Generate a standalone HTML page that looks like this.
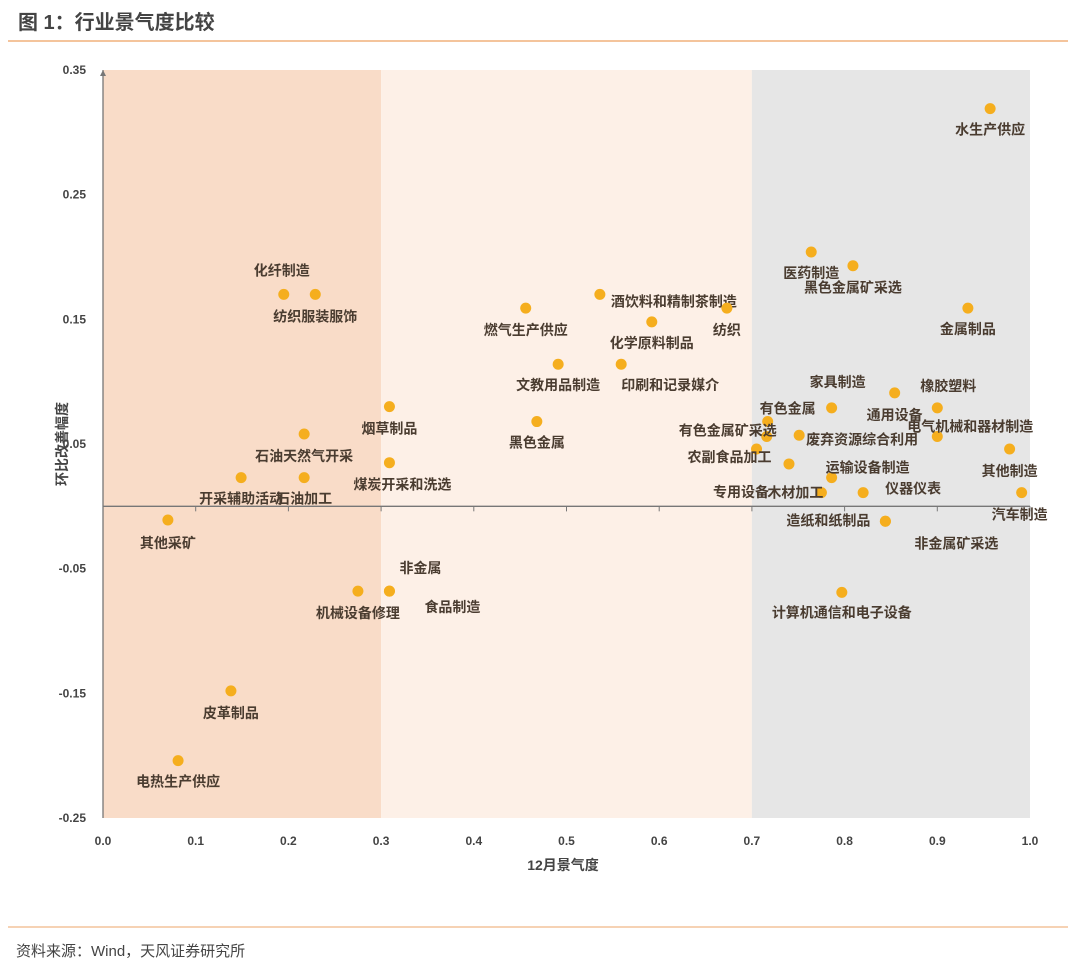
<!DOCTYPE html>
<html><head><meta charset="utf-8"><style>
body{margin:0;background:#fff;width:1080px;height:974px;overflow:hidden;font-family:"Liberation Sans","Noto Sans CJK SC",sans-serif}
svg text{font-family:"Liberation Sans","Noto Sans CJK SC",sans-serif}
</style></head><body>
<svg id="c" width="1080" height="974">
<text x="18" y="29" font-size="20" font-weight="bold" fill="#444">图 1：行业景气度比较</text>
<line x1="8" y1="41" x2="1068" y2="41" stroke="#f4c49c" stroke-width="2"/>
<line x1="8" y1="927" x2="1068" y2="927" stroke="#f4c49c" stroke-width="1.5"/>
<text x="16" y="956" font-size="15" fill="#444">资料来源：Wind，天风证券研究所</text>
<g id="plot"></g>
</svg>
<script>
const names=["水生产供应","医药制造","黑色金属矿采选","金属制品","化纤制造","纺织服装服饰","燃气生产供应","酒饮料和精制茶制造","化学原料制品","纺织","文教用品制造","印刷和记录媒介","黑色金属","烟草制品","石油天然气开采","煤炭开采和洗选","开采辅助活动","石油加工","其他采矿","非金属","食品制造","机械设备修理","皮革制品","电热生产供应","家具制造","有色金属","有色金属矿采选","通用设备","橡胶塑料","电气机械和器材制造","废弃资源综合利用","其他制造","农副食品加工","专用设备","运输设备制造","木材加工","仪器仪表","汽车制造","造纸和纸制品","非金属矿采选","计算机通信和电子设备"];
const xVals=[.957,.764,.809,.933,.195,.229,.456,.536,.592,.673,.491,.559,.468,.309,.217,.309,.149,.217,.070,.309,.309,.275,.138,.081,.786,.717,.716,.854,.900,.900,.751,.978,.705,.740,.786,.775,.820,.991,.844,.844,.797];
const yVals=[.319,.204,.193,.159,.170,.170,.159,.170,.148,.159,.114,.114,.068,.080,.058,.035,.023,.023,-.011,-.068,-.068,-.068,-.148,-.204,.079,.068,.056,.091,.079,.056,.057,.046,.046,.034,.023,.011,.011,.011,-.012,-.012,-.069];
const xTicks=[0,.1,.2,.3,.4,.5,.6,.7,.8,.9,1.0];
const yTicks=[.35,.25,.15,.05,-.05,-.15,-.25];
// label offsets (px) relative to dot: [dx,dy]
const off=[[0,21],[0,21],[0,22],[0,21],[-2,-24],[0,22],[0,22],[74,7],[0,21],[0,22],[0,21],[49,21],[0,21],[0,22],[0,22],[13,22],[0,21],[0,21],[0,23],[31,-23],[63,16],[0,22],[0,22],[0,21],[6,-26],[20,-13],[-39,-6],[0,22],[11,-22],[33,-10],[63,4],[0,22],[-27,8],[-48,28],[36,-10],[-26,0],[50,-4],[-2,22],[-57,-1],[71,22],[0,20]];
const X0=103,X1=1030,YT=70,YB=818,ymin=-.25,ymax=.35;
const sx=v=>X0+(v-0)*(X1-X0)/1;
const sy=v=>YB-(v-ymin)*(YB-YT)/(ymax-ymin);
const NS="http://www.w3.org/2000/svg",g=document.getElementById('plot');
function mk(t,a){const e=document.createElementNS(NS,t);for(const k in a)e.setAttribute(k,a[k]);g.appendChild(e);return e;}
let r;
r=mk('rect',{x:sx(0),y:YT,width:sx(.3)-sx(0),height:YB-YT,fill:'#f9dcc8'});


r=mk('rect',{x:sx(.3),y:YT,width:sx(.7)-sx(.3),height:YB-YT,fill:'#fdf0e7'});


r=mk('rect',{x:sx(.7),y:YT,width:sx(1)-sx(.7),height:YB-YT,fill:'#e6e6e6'});


r=mk('line',{x1:X0,y1:YB,x2:X0,y2:YT,stroke:'#777','stroke-width':1.3});


r=mk('path',{d:`M${X0-3},${YT+6}L${X0},${YT}L${X0+3},${YT+6}Z`,fill:'#777'});


r=mk('line',{x1:X0,y1:sy(0),x2:X1,y2:sy(0),stroke:'#777','stroke-width':1.3});


xTicks.forEach(v=>{
 const l=mk('line',{x1:sx(v),y1:sy(0),x2:sx(v),y2:sy(0)+5,stroke:'#777'});
 
 
 const t=mk('text',{x:sx(v),y:845,'font-size':12,'font-weight':'bold',fill:'#444','text-anchor':'middle'});
 t.textContent=v.toFixed(1);
 
 
});
yTicks.forEach(v=>{
 const t=mk('text',{x:86,y:sy(v)+4,'font-size':12,'font-weight':'bold',fill:'#444','text-anchor':'end'});
 t.textContent=v.toFixed(2);
 
 
});
r=mk('text',{x:563,y:870,'font-size':14,'font-weight':'bold',fill:'#444','text-anchor':'middle'});
r.textContent='12月景气度';


r=mk('text',{x:0,y:0,'font-size':14,'font-weight':'bold',fill:'#444','text-anchor':'middle',transform:'translate(67,444) rotate(-90)'});
r.textContent='环比改善幅度';


names.forEach((n,i)=>{
 const cx=sx(xVals[i]),cy=sy(yVals[i]);
 const c=mk('circle',{cx:cx,cy:cy,r:5.5,fill:'#f5ae1e'});
 
 
 const t=mk('text',{x:cx+off[i][0],y:cy+off[i][1]+5,'font-size':14,'font-weight':'bold',fill:'#4a3c30','text-anchor':'middle'});
 t.textContent=n;
 
 
});
</script>
</body></html>
